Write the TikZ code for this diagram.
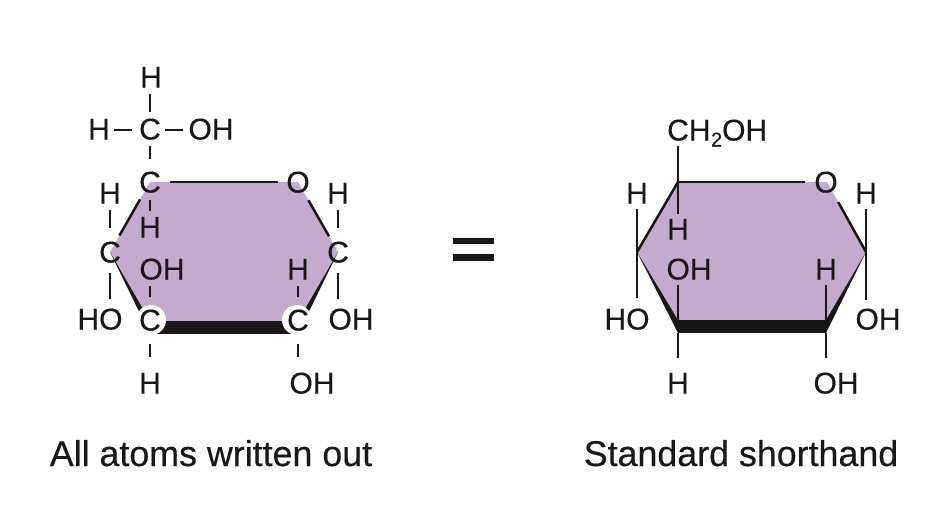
\documentclass[tikz,border=0pt]{standalone}
\usepackage{fontspec}
\setmainfont{Liberation Sans}[RawFeature={embolden=0.35}]
\definecolor{ringfill}{HTML}{C2ABCE}
\definecolor{ink}{HTML}{1A1718}
\tikzset{
  lab/.style={inner sep=0pt,text height=21pt,text depth=0pt,text=ink,font=\fontsize{30}{30}\selectfont},
  captext/.style={inner sep=0pt,text=ink,font=\fontsize{35.8}{36}\selectfont,anchor=base},
  bond/.style={draw=ink,line width=2.5pt},
  ringshape/.style={fill=ringfill,draw=none},
  wedgeshape/.style={fill=ink,draw=none},
  halo/.style={fill=white,draw=none,circle,inner sep=0pt,minimum size=30pt},
}
\newcommand{\vbond}[4]{\draw[bond,shorten <=#3pt,shorten >=#4pt] (#1) -- (#2);}
\begin{document}
\begin{tikzpicture}[x=1pt,y=-1pt]
\useasboundingbox (0,0) rectangle (948,528);
% ---- left ring ----
\coordinate (a1) at (150,182); \coordinate (a2) at (298,182);
\coordinate (a3) at (338,252); \coordinate (a4) at (298,321);
\coordinate (a5) at (150,321); \coordinate (a6) at (110,252);
\coordinate (a4b) at (298,334); \coordinate (a5b) at (150,334);
\fill[ringshape] (a1) -- (a2) -- (a3) -- (a4) -- (a5) -- (a6) -- cycle;
\fill[wedgeshape] (a5) -- (a4) -- (a4b) -- (a5b) -- cycle;
\fill[wedgeshape] (a6) -- (a5) -- (a5b) -- cycle;
\fill[wedgeshape] (a3) -- (a4) -- (a4b) -- cycle;
\node[halo] (ha) at (151,320) {};
\node[halo] (hb) at (297,320) {};
\draw[bond,shorten <=20pt,shorten >=20pt] (a1) -- (a2);
\draw[bond,shorten <=20pt,shorten >=19pt] (a1) -- (a6);
\draw[bond,shorten <=21pt,shorten >=18pt] (a2) -- (a3);
% atoms
\node[lab] (lHt) at (151,77) {H};
\node[lab] (lHl) at (99,129) {H};
\node[lab] (lC6) at (150,129) {C};
\node[lab] (lOH) at (211,129) {OH};
\node[lab] (lC5) at (150,182) {C};
\node[lab] (lO) at (298,182) {O};
\node[lab] (lH5u) at (110,193) {H};
\node[lab] (lH5d) at (150,227) {H};
\node[lab] (lH1u) at (338,193) {H};
\node[lab] (lC4) at (110,252) {C};
\node[lab] (lC1) at (338,252) {C};
\node[lab] (lOH3) at (162,269) {OH};
\node[lab] (lH2) at (298,269) {H};
\node[lab] (lHO4) at (100,319) {HO};
\node[lab] (lC3) at (150,320) {C};
\node[lab] (lC2) at (298,320) {C};
\node[lab] (lOH1) at (351,319) {OH};
\node[lab] (lH3) at (150,383) {H};
\node[lab] (lOH2) at (312,383) {OH};
% bonds
\vbond{lHt.south -| lC6.north}{lC6.north}{6}{6}
\draw[bond] (lHl.east) ++(4pt,-1pt) -- ++(18pt,0pt);
\draw[bond] (lC6.east) ++(4pt,-1pt) -- ++(18pt,0pt);
\vbond{lC6.south}{lC5.north}{6}{12}
\vbond{lC5.south}{lH5d.north}{7}{5}
\vbond{lH5u.south}{lC4.north}{6}{13}
\vbond{lH1u.south}{lC1.north}{6}{13}
\vbond{lC4.south}{lHO4.north -| lC4.south}{10}{9}
\vbond{lC1.south}{lOH1.north -| lC1.south}{10}{9}
\vbond{lOH3.south -| lC3.north}{lC3.north}{6}{12}
\vbond{lH2.south}{lC2.north}{6}{12}
\vbond{lC3.south}{lH3.north}{13}{15}
\vbond{lC2.south}{lOH2.north -| lC2.south}{13}{15}
% ---- right ring ----
\coordinate (b1) at (678,182); \coordinate (b2) at (827,182);
\coordinate (b3) at (866,252); \coordinate (b4) at (826,320);
\coordinate (b5) at (678,320); \coordinate (b6) at (637,252);
\coordinate (b4b) at (826,333); \coordinate (b5b) at (678,333);
\fill[ringshape] (b1) -- (b2) -- (b3) -- (b4) -- (b5) -- (b6) -- cycle;
\fill[wedgeshape] (b5) -- (b4) -- (b4b) -- (b5b) -- cycle;
\fill[wedgeshape] (b6) -- (b5) -- (b5b) -- cycle;
\fill[wedgeshape] (b3) -- (b4) -- (b4b) -- cycle;
\draw[bond,line cap=round] (b1) -- (b6);
\draw[bond,shorten >=22pt] (b1) -- (b2);
\draw[bond,shorten <=23pt] (b2) -- (b3);
\node[lab,anchor=west] (rCH) at (667,130) {CH\kern0.5pt\raisebox{-6pt}{\fontsize{20}{20}\selectfont 2}OH};
\node[lab] (rO) at (826,182) {O};
\node[lab] (rH5u) at (637,193) {H};
\node[lab] (rH5d) at (678,229) {H};
\node[lab] (rH1u) at (866,193) {H};
\node[lab] (rOH3) at (689,269) {OH};
\node[lab] (rH2) at (826,269) {H};
\node[lab] (rHO4) at (627,319) {HO};
\node[lab] (rOH1) at (878,319) {OH};
\node[lab] (rH3) at (678,383) {H};
\node[lab] (rOH2) at (836,383) {OH};
\vbond{rCH.south -| b1}{rH5d.north}{5}{4}
\vbond{rH5u.south}{rHO4.north -| rH5u.south}{5}{10}
\vbond{rH1u.south}{rOH1.north -| rH1u.south}{5}{8}
\vbond{rOH3.south -| b5}{b5}{5}{0}
\vbond{rH2.south -| b4}{b4}{5}{0}
\vbond{b5b}{rH3.north}{0}{14}
\vbond{b4b}{rOH2.north -| b4b}{0}{14}
% ---- equals sign ----
\fill[ink] (453,238) rectangle (494,244);
\fill[ink] (453,254) rectangle (494,261);
% ---- captions ----
\node[captext] (capL) at (211,466) {All atoms written out};
\node[captext] (capR) at (741,466) {Standard shorthand};
\end{tikzpicture}
\end{document}
